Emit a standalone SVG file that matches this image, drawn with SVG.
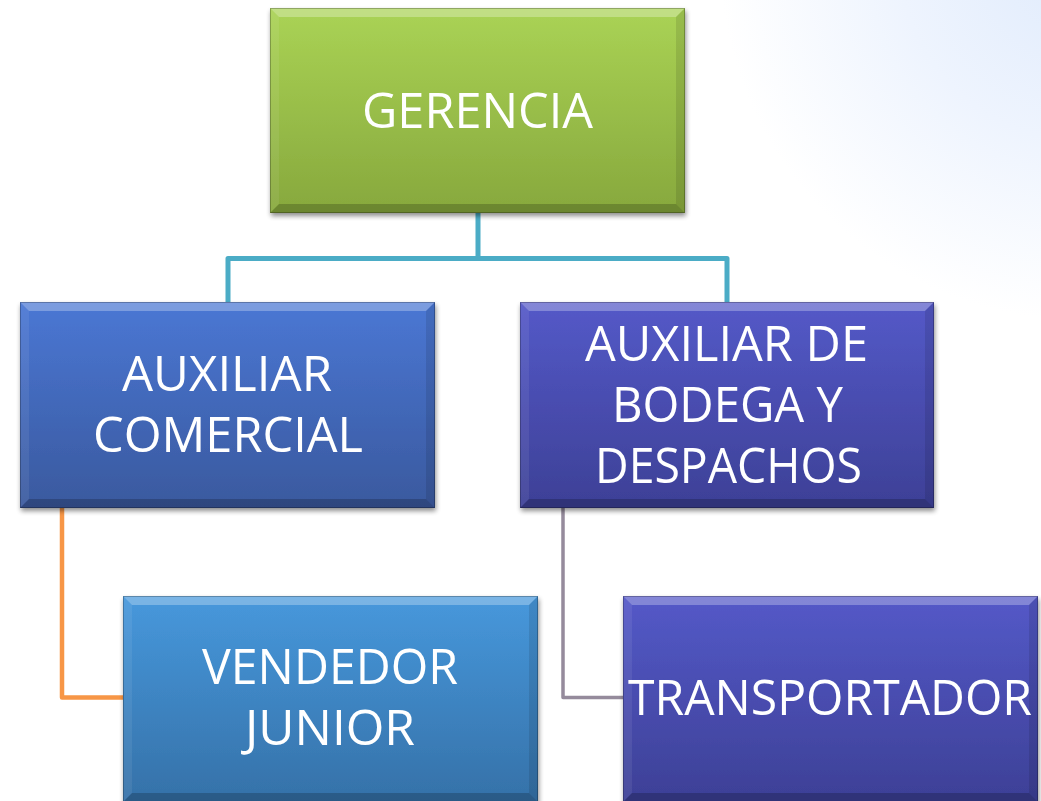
<svg xmlns="http://www.w3.org/2000/svg" width="1041" height="801" viewBox="0 0 1041 801">
  <defs>
    <radialGradient id="bg" gradientUnits="userSpaceOnUse" cx="1080" cy="-40" r="360">
      <stop offset="0" stop-color="#e0ebfc"/>
      <stop offset="0.5" stop-color="#eef4fe"/>
      <stop offset="1" stop-color="#ffffff"/>
    </radialGradient>
    <linearGradient id="gGreen" x1="0" y1="0" x2="0" y2="1">
      <stop offset="0" stop-color="#aad355"/>
      <stop offset="1" stop-color="#87a83d"/>
    </linearGradient>
    <linearGradient id="gBlue" x1="0" y1="0" x2="0" y2="1">
      <stop offset="0" stop-color="#4a77d4"/>
      <stop offset="1" stop-color="#3a599e"/>
    </linearGradient>
    <linearGradient id="gIndigo" x1="0" y1="0" x2="0" y2="1">
      <stop offset="0" stop-color="#5459c8"/>
      <stop offset="1" stop-color="#3d4096"/>
    </linearGradient>
    <linearGradient id="gSky" x1="0" y1="0" x2="0" y2="1">
      <stop offset="0" stop-color="#4798dc"/>
      <stop offset="1" stop-color="#3571a8"/>
    </linearGradient>
    <filter id="shadow" x="-10%" y="-10%" width="120%" height="125%">
      <feGaussianBlur in="SourceAlpha" stdDeviation="2.5"/>
      <feOffset dx="1" dy="3" result="b"/>
      <feComponentTransfer><feFuncA type="linear" slope="0.45"/></feComponentTransfer>
      <feMerge><feMergeNode/><feMergeNode in="SourceGraphic"/></feMerge>
    </filter>
  </defs>
  <style>
    .box { filter: url(#shadow); }
    .bt { fill: #ffffff; fill-opacity: 0.28; }
    .bl { fill: #ffffff; fill-opacity: 0.07; }
    .br { fill: #000000; fill-opacity: 0.10; }
    .bb { fill: #000000; fill-opacity: 0.20; }
    .edge { fill: none; stroke: #000000; stroke-opacity: 0.25; stroke-width: 1; }
    .lbl { font-family: "Open Sans", "Noto Sans", "Liberation Sans", sans-serif; font-size: 50px; fill: #ffffff; text-anchor: middle; }
    .conn { fill: none; stroke-linejoin: round; stroke-linecap: butt; }
  </style>

  <rect x="0" y="0" width="1041" height="801" fill="url(#bg)"/>

  <g id="connectors">
    <path class="conn" d="M478,213 V258.5 H228 V302 M478,258.5 H727 V302" stroke="#4bacc6" stroke-width="5"/>
    <path class="conn" d="M62,508 V697.5 H123" stroke="#f79646" stroke-width="4.5"/>
    <path class="conn" d="M563,508 V697.5 H623" stroke="#958b9c" stroke-width="3.5"/>
  </g>

  <g id="gerencia">
    <rect class="box" x="270" y="8" width="415" height="205" fill="url(#gGreen)"/>
    <polygon class="bt" points="270,8 685,8 676,17 279,17"/>
    <polygon class="bl" points="270,8 279,17 279,204 270,213"/>
    <polygon class="br" points="685,8 676,17 676,204 685,213"/>
    <polygon class="bb" points="270,213 685,213 676,204 279,204"/>
    <rect class="edge" x="270.5" y="8.5" width="414" height="204"/>
    <text class="lbl" x="477.5" y="128" textLength="231" lengthAdjust="spacingAndGlyphs">GERENCIA</text>
  </g>

  <g id="auxiliar-comercial">
    <rect class="box" x="20" y="302" width="415" height="206" fill="url(#gBlue)"/>
    <polygon class="bt" points="20,302 435,302 426,311 29,311"/>
    <polygon class="bl" points="20,302 29,311 29,499 20,508"/>
    <polygon class="br" points="435,302 426,311 426,499 435,508"/>
    <polygon class="bb" points="20,508 435,508 426,499 29,499"/>
    <rect class="edge" x="20.5" y="302.5" width="414" height="205"/>
    <text class="lbl" x="227" y="391" textLength="210" lengthAdjust="spacingAndGlyphs">AUXILIAR</text>
    <text class="lbl" x="228" y="452" textLength="270" lengthAdjust="spacingAndGlyphs">COMERCIAL</text>
  </g>

  <g id="auxiliar-bodega">
    <rect class="box" x="520" y="302" width="414" height="206" fill="url(#gIndigo)"/>
    <polygon class="bt" points="520,302 934,302 925,311 529,311"/>
    <polygon class="bl" points="520,302 529,311 529,499 520,508"/>
    <polygon class="br" points="934,302 925,311 925,499 934,508"/>
    <polygon class="bb" points="520,508 934,508 925,499 529,499"/>
    <rect class="edge" x="520.5" y="302.5" width="413" height="205"/>
    <text class="lbl" x="726.5" y="361" textLength="283" lengthAdjust="spacingAndGlyphs">AUXILIAR DE</text>
    <text class="lbl" x="727.5" y="422" textLength="231" lengthAdjust="spacingAndGlyphs">BODEGA Y</text>
    <text class="lbl" x="728.5" y="483" textLength="267" lengthAdjust="spacingAndGlyphs">DESPACHOS</text>
  </g>

  <g id="vendedor-junior">
    <rect class="box" x="123" y="596" width="415" height="206" fill="url(#gSky)"/>
    <polygon class="bt" points="123,596 538,596 529,605 132,605"/>
    <polygon class="bl" points="123,596 132,605 132,793 123,802"/>
    <polygon class="br" points="538,596 529,605 529,793 538,802"/>
    <polygon class="bb" points="123,802 538,802 529,793 132,793"/>
    <rect class="edge" x="123.5" y="596.5" width="414" height="205"/>
    <text class="lbl" x="330" y="684" textLength="256" lengthAdjust="spacingAndGlyphs">VENDEDOR</text>
    <text class="lbl" x="330" y="745" textLength="170" lengthAdjust="spacingAndGlyphs">JUNIOR</text>
  </g>

  <g id="transportador">
    <rect class="box" x="623" y="596" width="415" height="206" fill="url(#gIndigo)"/>
    <polygon class="bt" points="623,596 1038,596 1029,605 632,605"/>
    <polygon class="bl" points="623,596 632,605 632,793 623,802"/>
    <polygon class="br" points="1038,596 1029,605 1029,793 1038,802"/>
    <polygon class="bb" points="623,802 1038,802 1029,793 632,793"/>
    <rect class="edge" x="623.5" y="596.5" width="414" height="205"/>
    <text class="lbl" x="830" y="715" textLength="404" lengthAdjust="spacingAndGlyphs">TRANSPORTADOR</text>
  </g>
</svg>
